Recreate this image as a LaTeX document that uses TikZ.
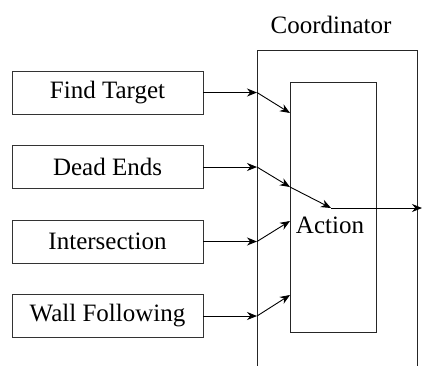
\documentclass[tikz,border=0pt]{standalone}
\usepackage{fontspec}
\setmainfont{Liberation Serif}
\newfontfamily\tnr{Liberation Serif}
\usetikzlibrary{arrows.meta}
\begin{document}
\begin{tikzpicture}[x=1pt,y=-1pt,
  inbox/.style={draw=black!80, line width=0.9pt, minimum width=191pt, minimum height=43pt, inner sep=0pt, font=\tnr\fontsize{25}{30}\selectfont},
  frame/.style={draw=black!85, line width=0.9pt, inner sep=0pt},
  lbl/.style={inner sep=0pt, font=\tnr\fontsize{25}{30}\selectfont},
  conn/.style={line width=0.9pt, -{Stealth[length=10pt,width=8pt]}}]
\useasboundingbox (0,0) rectangle (422,365);
\clip (0,0) rectangle (422,365);
\node[frame, minimum width=160pt, minimum height=350pt] (coord) at (337,225) {};
\node[frame, minimum width=86pt, minimum height=250pt] (act) at (333,207) {};
\node[lbl] (ctitle) at (331,25) {Coordinator};
\node[lbl] (actl) at (330,225) {Action};
\node[inbox] (ft) at (107.5,92.5) {Find Target};
\node[inbox] (de) at (107.5,167) {Dead Ends};
\node[inbox] (is) at (107.5,241.5) {Intersection};
\node[inbox] (wf) at (107.5,316) {Wall Following};
\coordinate (j1) at (257,92.5);
\coordinate (j2) at (257,167);
\coordinate (j3) at (257,241.5);
\coordinate (j4) at (257,316);
\coordinate (t1) at (290,113);
\coordinate (t2) at (290,187);
\coordinate (t3) at (290,221);
\coordinate (t4) at (290,295);
\coordinate (c) at (331,208);
\coordinate (out) at (422,208);
\draw[conn] (ft.east) -- (j1);
\draw[conn] (de.east) -- (j2);
\draw[conn] (is.east) -- (j3);
\draw[conn] (wf.east) -- (j4);
\draw[conn] (j1) -- (t1);
\draw[conn] (j2) -- (t2);
\draw[conn] (t2) -- (c);
\draw[conn] (j3) -- (t3);
\draw[conn] (j4) -- (t4);
\draw[conn] (c) -- (out);
\end{tikzpicture}
\end{document}
